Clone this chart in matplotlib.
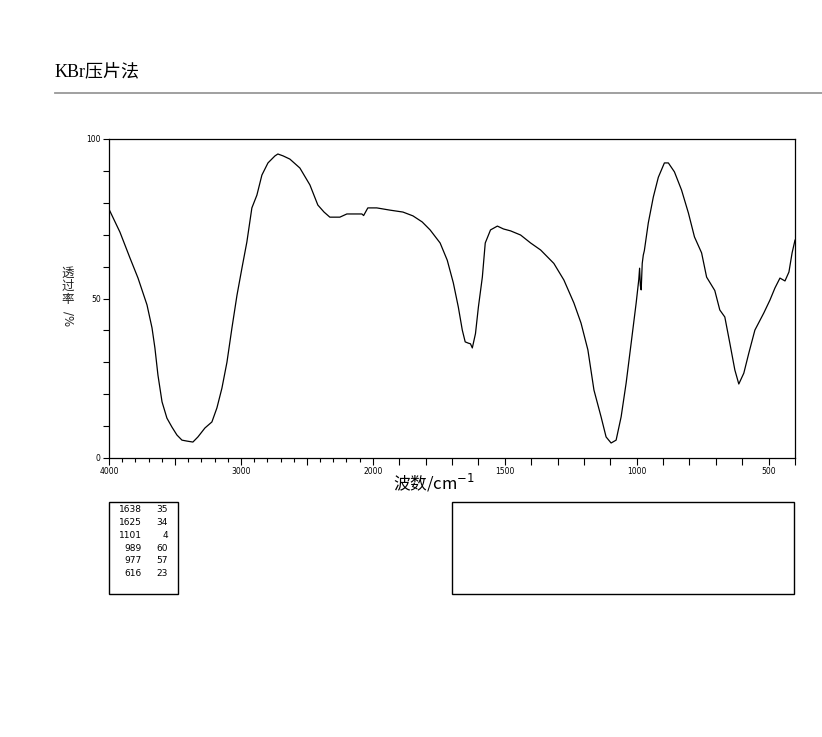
import numpy as np
import matplotlib
matplotlib.use("Agg")
import matplotlib.pyplot as plt
from matplotlib.patches import Rectangle
from matplotlib.lines import Line2D
from matplotlib.ticker import FixedLocator, FuncFormatter

plt.rcParams['font.family'] = ['DejaVu Sans', 'Noto Sans CJK SC']

# spectrum (wavenumber cm-1, transmittance %)
wn = [4000, 3917, 3841, 3780, 3712, 3674, 3652, 3629, 3598, 3561, 3523, 3485,
      3447, 3409, 3364, 3326, 3273, 3220, 3182, 3144, 3106, 3068, 3030, 2992,
      2955, 2917, 2879, 2841, 2795, 2742, 2720, 2680, 2629, 2553, 2477, 2417,
      2370, 2326, 2250, 2197, 2083, 2070, 2038, 1985, 1935, 1886, 1848, 1813,
      1783, 1745, 1718, 1695, 1676, 1661, 1650, 1638, 1630, 1623, 1611, 1600,
      1585, 1574, 1554, 1528, 1505, 1478, 1440, 1402, 1364, 1314, 1276, 1238,
      1211, 1185, 1162, 1135, 1116, 1097, 1078, 1059, 1040, 1021, 1002, 992,
      989, 986, 983, 979, 975, 971, 956, 937, 918, 895, 880, 857, 830, 804,
      781, 754, 735, 704, 685, 666, 647, 628, 613, 594, 575, 552, 518, 495,
      476, 457, 438, 423, 411, 400]
trans = [78.0, 70.8, 62.7, 56.4, 48.0, 40.8, 34.5, 26.0, 17.6, 12.5, 9.7, 7.2,
         5.6, 5.3, 5.0, 6.6, 9.4, 11.3, 15.7, 21.9, 30.0, 40.8, 51.0, 59.6,
         67.7, 78.4, 82.4, 88.7, 92.5, 94.7, 95.3, 94.7, 93.7, 90.9, 85.6, 79.3,
         77.1, 75.5, 75.5, 76.5, 76.5, 76.0, 78.4, 78.4, 77.7, 77.1, 75.9, 74.0,
         71.5, 67.4, 62.0, 54.9, 47.3, 40.1, 36.4, 36.0, 35.8, 34.5, 39.0, 47.3,
         56.7, 67.4, 71.5, 72.7, 71.8, 71.2, 69.9, 67.4, 65.2, 61.0, 55.8, 48.6,
         42.3, 33.9, 21.3, 12.9, 6.6, 4.7, 5.6, 12.9, 23.5, 36.0, 48.6, 56.0,
         59.5, 54.0, 52.7, 61.0, 63.6, 65.0, 73.7, 81.8, 88.0, 92.5, 92.5, 89.7,
         84.0, 76.8, 69.3, 64.3, 56.7, 52.5, 46.4, 44.2, 36.0, 27.6, 23.2, 26.6,
         32.9, 40.1, 45.5, 49.5, 53.3, 56.4, 55.5, 58.3, 64.3, 68.3]

# peak table
peak_wn = [1638, 1625, 1101, 989, 977, 616]
peak_t = [35, 34, 4, 60, 57, 23]

x_labels = {4000: "4000", 3000: "3000", 2000: "2000", 1500: "1500", 1000: "1000", 500: "500"}
x_major = [4000, 3500, 3000, 2500, 2000] + list(range(1900, 399, -100))
x_minor = [w for w in range(4000, 2000, -100) if w % 500 != 0]
y_labels = {0: "0", 50: "50", 100: "100"}


def fwd(x):
    x = np.asarray(x, dtype=float)
    return np.where(x >= 2000, x, 2 * x - 2000)


def inv(y):
    y = np.asarray(y, dtype=float)
    return np.where(y >= 2000, y, (y + 2000) / 2)


W, H = 822, 737
fig = plt.figure(figsize=(W / 100, H / 100), dpi=100)

def fx(px):
    return px / W

def fy(py):
    return 1 - py / H

ax = fig.add_axes([fx(109), fy(458), fx(795) - fx(109), fy(139) - fy(458)])
ax.set_xscale('function', functions=(fwd, inv))
ax.plot(wn, trans, color='black', lw=0.9)
ax.set_xlim(4000, 400)
ax.set_ylim(0, 100)

ax.xaxis.set_major_locator(FixedLocator(x_major))
ax.xaxis.set_minor_locator(FixedLocator(x_minor))
ax.xaxis.set_major_formatter(FuncFormatter(lambda v, p: x_labels.get(int(round(v)), "")))
ax.yaxis.set_major_locator(FixedLocator(list(range(0, 101, 10))))
ax.yaxis.set_major_formatter(FuncFormatter(lambda v, p: y_labels.get(int(round(v)), "")))
ax.tick_params(axis='x', which='major', direction='out', length=5, width=0.8,
               labelsize=5.5, pad=1.5)
ax.tick_params(axis='x', which='minor', direction='out', length=3, width=0.8)
ax.tick_params(axis='y', which='major', direction='out', length=4, width=0.8,
               labelsize=5.5, pad=2)
for lab in ax.get_xticklabels() + ax.get_yticklabels():
    lab.set_fontfamily('Liberation Sans Narrow')
for s in ax.spines.values():
    s.set_linewidth(0.9)

# header
fig.text(fx(55), fy(72), "KBr压片法", fontsize=13, va='center', ha='left',
         family=['Liberation Serif', 'Noto Sans CJK SC'])
fig.add_artist(Line2D([fx(55), 1.0], [fy(93), fy(93)], color='#999999', lw=1.3))

# axis titles
fig.text(fx(434), fy(483), "波数/cm$^{-1}$", fontsize=12, ha='center', va='center',
         family=['Noto Sans CJK SC', 'DejaVu Sans'])
for i, ch in enumerate("透过率"):
    fig.text(fx(68), fy(273 + i * 13), ch, fontsize=9, ha='center', va='center',
             rotation=0, family=['Noto Sans CJK SC'], color='#222222')
fig.text(fx(68), fy(319), "/%", fontsize=8.5, ha='center', va='center',
         rotation=-90, color='#222222')

# peak table box
fig.add_artist(Rectangle((fx(109), fy(594)), fx(178) - fx(109), fy(502) - fy(594),
                         fill=False, ec='black', lw=1.0, transform=fig.transFigure))
for i, (w, t) in enumerate(zip(peak_wn, peak_t)):
    yy = fy(510 + i * 12.7)
    fig.text(fx(142), yy, str(w), fontsize=6.5, ha='right', va='center',
             family='Liberation Sans Narrow')
    fig.text(fx(168), yy, str(t), fontsize=6.5, ha='right', va='center',
             family='Liberation Sans Narrow')

# empty comment box
fig.add_artist(Rectangle((fx(452), fy(594)), fx(794) - fx(452), fy(502) - fy(594),
                         fill=False, ec='black', lw=1.0, transform=fig.transFigure))

fig.savefig("out.png", dpi=100)
